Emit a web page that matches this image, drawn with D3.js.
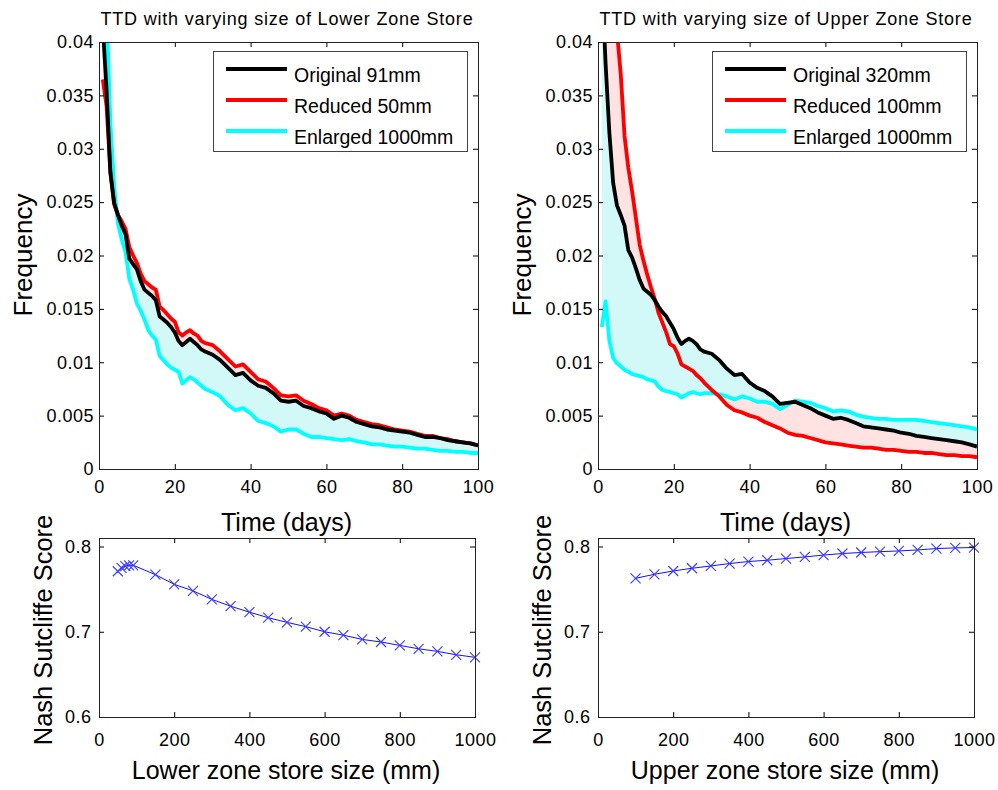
<!DOCTYPE html>
<html>
<head>
<meta charset="utf-8">
<script src="https://cdn.jsdelivr.net/npm/d3@7"></script>
<style>
  body { margin: 0; background: #fff; }
  svg { font-family: "Liberation Sans", Arial, Helvetica, sans-serif; }
  .tick text { font-size: 18px; letter-spacing: 0.5px; fill: #000; font-family: "Liberation Sans", Arial, sans-serif; }
  .tick line { stroke: #000; }
</style>
</head>
<body>
<svg id="chart" width="998" height="790"></svg>
<script>
// ---- data ----
const days = [1,2,3,4,5,6,7,8,9,10,11,12,13,14,15,16,17,18,19,20,21,22,23,24,25,26,27,28,
  30,32,34,36,38,40,42,44,46,48,50,52,54,56,58,60,62,64,66,68,70,72,74,76,78,80,
  82,84,86,88,90,92,94,96,98,100];

// lower zone store
const lzOriginal = [0.0415,0.0355,0.0278,0.0249,0.0238,0.0228,0.0220,0.0197,0.0192,0.0187,
  0.0176,0.0168,0.0165,0.0162,0.0158,0.0143,0.0140,0.0137,0.0133,0.0128,
  0.0120,0.0116,0.0119,0.0122,0.0119,0.0116,0.0112,0.0110,
  0.0107,0.0102,0.0095,0.0088,0.0090,0.0083,0.0078,0.0076,0.0071,0.0064,
  0.0063,0.0064,0.0059,0.0057,0.0054,0.0052,0.0047,0.0050,0.0048,0.0044,
  0.0042,0.0040,0.0039,0.0037,0.0036,0.0035,0.0034,0.0032,0.0030,0.0030,
  0.0029,0.0027,0.0026,0.0025,0.0024,0.0022];
const lzReduced = [0.0365,0.0340,0.0278,0.0248,0.0238,0.0232,0.0225,0.0208,0.0200,0.0193,
  0.0183,0.0176,0.0173,0.0170,0.0168,0.0152,0.0149,0.0145,0.0141,0.0138,
  0.0128,0.0125,0.0128,0.0130,0.0127,0.0125,0.0120,0.0118,
  0.0116,0.0110,0.0103,0.0096,0.0098,0.0091,0.0084,0.0082,0.0076,0.0069,
  0.0068,0.0069,0.0064,0.0061,0.0057,0.0055,0.0050,0.0052,0.0050,0.0046,
  0.0044,0.0042,0.0041,0.0039,0.0037,0.0036,0.0035,0.0033,0.0031,0.0031,
  0.0029,0.0028,0.0026,0.0025,0.0024,0.0022];
const lzEnlarged = [0.0480,0.0430,0.0325,0.0265,0.0230,0.0215,0.0203,0.0178,0.0168,0.0155,
  0.0148,0.0140,0.0130,0.0125,0.0121,0.0106,0.0102,0.0098,0.0095,0.0093,
  0.0091,0.0080,0.0083,0.0086,0.0084,0.0081,0.0078,0.0075,
  0.0072,0.0068,0.0060,0.0055,0.0057,0.0052,0.0045,0.0043,0.0040,0.0035,
  0.0037,0.0037,0.0033,0.0030,0.0030,0.0029,0.0028,0.0027,0.0028,0.0026,
  0.0025,0.0023,0.0023,0.0022,0.0021,0.0021,0.0020,0.0019,0.0019,0.0018,
  0.0017,0.0017,0.0016,0.0016,0.0015,0.0015];

// upper zone store
const uzOriginal = [0.0460,0.0380,0.0315,0.0268,0.0247,0.0238,0.0228,0.0205,0.0198,0.0188,
  0.0177,0.0169,0.0166,0.0163,0.0158,0.0152,0.0147,0.0143,0.0137,0.0131,
  0.0123,0.0117,0.0120,0.0122,0.0120,0.0117,0.0112,0.0110,
  0.0108,0.0102,0.0094,0.0088,0.0089,0.0081,0.0076,0.0073,0.0068,0.0061,
  0.0062,0.0063,0.0060,0.0057,0.0053,0.0050,0.0047,0.0048,0.0046,0.0043,
  0.0040,0.0039,0.0038,0.0037,0.0036,0.0034,0.0033,0.0031,0.0030,0.0029,
  0.0028,0.0027,0.0026,0.0025,0.0023,0.0021];
const uzReduced = [0.0600,0.0550,0.0500,0.0450,0.0410,0.0370,0.0312,0.0282,0.0260,0.0235,
  0.0210,0.0195,0.0182,0.0170,0.0159,0.0146,0.0137,0.0128,0.0117,0.0115,
  0.0108,0.0098,0.0096,0.0094,0.0092,0.0088,0.0085,0.0081,
  0.0074,0.0068,0.0060,0.0055,0.0053,0.0050,0.0048,0.0044,0.0041,0.0038,
  0.0034,0.0032,0.0031,0.0029,0.0027,0.0025,0.0024,0.0023,0.0022,0.0021,
  0.0020,0.0020,0.0019,0.0018,0.0018,0.0017,0.0016,0.0016,0.0015,0.0015,
  0.0014,0.0013,0.0013,0.0012,0.0012,0.0011];
const uzEnlarged = [0.0133,0.0157,0.0120,0.0104,0.0099,0.0096,0.0093,0.0091,0.0089,0.0088,
  0.0087,0.0086,0.0084,0.0083,0.0082,0.0077,0.0074,0.0073,0.0072,0.0071,
  0.0070,0.0067,0.0069,0.0071,0.0072,0.0071,0.0070,0.0071,
  0.0071,0.0070,0.0068,0.0065,0.0068,0.0066,0.0063,0.0063,0.0061,0.0056,
  0.0060,0.0064,0.0063,0.0062,0.0059,0.0057,0.0054,0.0055,0.0054,0.0051,
  0.0049,0.0048,0.0047,0.0047,0.0046,0.0046,0.0046,0.0046,0.0045,0.0044,
  0.0043,0.0042,0.0041,0.0040,0.0039,0.0037];

const lzLegend = ["Original 91mm", "Reduced 50mm", "Enlarged 1000mm"];
const uzLegend = ["Original 320mm", "Reduced 100mm", "Enlarged 1000mm"];

// Nash Sutcliffe scores vs store size
const lzSizes = [50,60,70,80,91,150,200,250,300,350,400,450,500,550,600,650,700,750,800,850,900,950,1000];
const lzScore = [0.771,0.775,0.777,0.778,0.778,0.767,0.7556,0.748,0.738,0.730,0.723,0.7165,
  0.711,0.706,0.700,0.696,0.691,0.688,0.684,0.680,0.677,0.673,0.670];
const uzSizes = [100,150,200,250,300,350,400,450,500,550,600,650,700,750,800,850,900,950,1000];
const uzScore = [0.7627,0.7674,0.7713,0.7745,0.7772,0.780,0.7824,0.7839,0.7859,0.7878,
  0.790,0.7918,0.793,0.794,0.7948,0.796,0.7976,0.7984,0.7988];

// ticks
const dayTicks = [0,20,40,60,80,100];
const dayTickLabels = ["0","20","40","60","80","100"];
const freqTicks = [0,0.005,0.01,0.015,0.02,0.025,0.03,0.035,0.04];
const freqTickLabels = ["0","0.005","0.01","0.015","0.02","0.025","0.03","0.035","0.04"];
const sizeTicks = [0,200,400,600,800,1000];
const sizeTickLabels = ["0","200","400","600","800","1000"];
const scoreTicks = [0.6,0.7,0.8];
const scoreTickLabels = ["0.6","0.7","0.8"];

// ---- drawing ----
const svg = d3.select("#chart");

function drawAxes(g, x, y, p, opt) {
  g.append("g").attr("transform", `translate(0,${p.y1})`)
    .call(d3.axisBottom(x).tickValues(opt.xt).tickSize(-5).tickPadding(opt.xpad)
      .tickFormat((d, i) => opt.xl[i]));
  g.append("g").attr("transform", `translate(0,${p.y0})`)
    .call(d3.axisTop(x).tickValues(opt.xt).tickSize(-5).tickFormat(""));
  g.append("g").attr("transform", `translate(${p.x0},0)`)
    .call(d3.axisLeft(y).tickValues(opt.yt).tickSize(-5).tickPadding(opt.ypad)
      .tickFormat((d, i) => opt.yl[i]));
  g.append("g").attr("transform", `translate(${p.x1},0)`)
    .call(d3.axisRight(y).tickValues(opt.yt).tickSize(-5).tickFormat(""));
  g.selectAll(".domain").remove();
  g.append("rect")
    .attr("x", p.x0 + 0.5).attr("y", p.y0 + 0.5)
    .attr("width", p.x1 - p.x0).attr("height", p.y1 - p.y0)
    .attr("fill", "none").attr("stroke", "#222").attr("stroke-width", 1)
    .attr("shape-rendering", "crispEdges");
}

const topPanels = [
  {id: "lz", x0: 99, x1: 478, y0: 42, y1: 469, title: "TTD with varying size of Lower Zone Store",
   orig: lzOriginal, red: lzReduced, cyan: lzEnlarged, legend: lzLegend},
  {id: "uz", x0: 598, x1: 977, y0: 42, y1: 469, title: "TTD with varying size of Upper Zone Store",
   orig: uzOriginal, red: uzReduced, cyan: uzEnlarged, legend: uzLegend}
];

topPanels.forEach(p => {
  const g = svg.append("g");
  const x = d3.scaleLinear().domain([0, 100]).range([p.x0, p.x1]);
  const y = d3.scaleLinear().domain([0, 0.04]).range([p.y1, p.y0]);

  svg.append("clipPath").attr("id", "clip-" + p.id)
    .append("rect").attr("x", p.x0).attr("y", p.y0)
    .attr("width", p.x1 - p.x0).attr("height", p.y1 - p.y0);

  const rows = days.map((d, i) => ({day: d, o: p.orig[i], r: p.red[i], c: p.cyan[i]}));
  const plot = g.append("g").attr("clip-path", `url(#clip-${p.id})`);

  // pale bands where the intermediate store sizes sit
  const band = (k) => d3.area().x(d => x(d.day)).y0(d => y(d.o)).y1(d => y(d[k]));
  plot.append("path").datum(rows).attr("d", band("r")).attr("fill", "#ffe3e3");
  plot.append("path").datum(rows).attr("d", band("c")).attr("fill", "#d2f8f8");

  const line = (k) => d3.line().x(d => x(d.day)).y(d => y(d[k]));
  [["c", "#00ffff"], ["r", "#ff0000"], ["o", "#000000"]].forEach(([k, col]) => {
    plot.append("path").datum(rows).attr("d", line(k))
      .attr("fill", "none").attr("stroke", col).attr("stroke-width", 3.8)
      .attr("stroke-linejoin", "round");
  });

  drawAxes(g, x, y, p, {xt: dayTicks, xl: dayTickLabels, xpad: 11,
                        yt: freqTicks, yl: freqTickLabels, ypad: 5});

  // title and labels
  g.append("text").attr("x", (p.x0 + p.x1) / 2 - 1.5).attr("y", 25)
    .attr("text-anchor", "middle").attr("font-size", 18).attr("letter-spacing", 0.8)
    .text(p.title);
  g.append("text").attr("x", (p.x0 + p.x1) / 2 - 2).attr("y", 531)
    .attr("text-anchor", "middle").attr("font-size", 25).text("Time (days)");
  g.append("text").attr("transform", `translate(${p.x0 - 67},255) rotate(-90)`)
    .attr("text-anchor", "middle").attr("font-size", 26).text("Frequency");

  // legend
  const lg = g.append("g");
  lg.append("rect").attr("x", p.x1 - 264.5).attr("y", 51.5).attr("width", 254).attr("height", 99.5)
    .attr("fill", "#fff").attr("stroke", "#444").attr("stroke-width", 1)
    .attr("shape-rendering", "crispEdges");
  const cols = ["#000000", "#ff0000", "#00ffff"];
  p.legend.forEach((t, i) => {
    const ly = 69 + i * 31;
    lg.append("line").attr("x1", p.x1 - 252).attr("x2", p.x1 - 191)
      .attr("y1", ly).attr("y2", ly).attr("stroke", cols[i]).attr("stroke-width", 4);
    lg.append("text").attr("x", p.x1 - 184).attr("y", ly + 12.5)
      .attr("font-size", 19.5).text(t);
  });
});

const bottomPanels = [
  {x0: 99, x1: 475, y0: 538, y1: 717, sizes: lzSizes, score: lzScore, xlabel: "Lower zone store size (mm)"},
  {x0: 598, x1: 974, y0: 538, y1: 717, sizes: uzSizes, score: uzScore, xlabel: "Upper zone store size (mm)"}
];

bottomPanels.forEach(p => {
  const g = svg.append("g");
  const x = d3.scaleLinear().domain([0, 1000]).range([p.x0, p.x1]);
  const y = d3.scaleLinear().domain([0.6, 0.81]).range([p.y1, p.y0]);
  const pts = p.sizes.map((s, i) => ({s: s, v: p.score[i]}));

  g.append("path").datum(pts)
    .attr("d", d3.line().x(d => x(d.s)).y(d => y(d.v)))
    .attr("fill", "none").attr("stroke", "#1010ff").attr("stroke-width", 1);

  const m = 5;
  g.selectAll("path.mark").data(pts).join("path").attr("class", "mark")
    .attr("d", d => {
      const cx = x(d.s), cy = y(d.v);
      return `M${cx - m},${cy - m}L${cx + m},${cy + m}M${cx - m},${cy + m}L${cx + m},${cy - m}`;
    })
    .attr("stroke", "#3a3aff").attr("stroke-width", 1.1).attr("fill", "none");

  drawAxes(g, x, y, p, {xt: sizeTicks, xl: sizeTickLabels, xpad: 16,
                        yt: scoreTicks, yl: scoreTickLabels, ypad: 7.5});

  g.append("text").attr("x", (p.x0 + p.x1) / 2 - 1).attr("y", 779)
    .attr("text-anchor", "middle").attr("font-size", 25).text(p.xlabel);
  g.append("text").attr("transform", `translate(${p.x0 - 47.5},630) rotate(-90)`)
    .attr("text-anchor", "middle").attr("font-size", 25.5).text("Nash Sutcliffe Score");
});
</script>
</body>
</html>
